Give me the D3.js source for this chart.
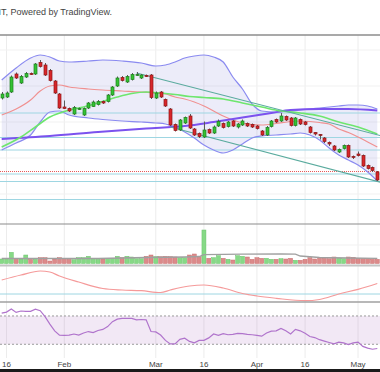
<!DOCTYPE html>
<html>
<head>
<meta charset="utf-8">
<script src="https://cdn.jsdelivr.net/npm/d3@7"></script>
<style>
  body { margin: 0; background: #fff; }
  svg { display: block; font-family: "Liberation Sans", Arial, sans-serif; }
</style>
</head>
<body>
<svg class="chart" width="380" height="372"></svg>
<script>
// daily bars, mid January to early May
const open = [126,127,132,150,141,147,150.5,150,161.5,159,
  153.5,143,130,117,115.5,110,115,109,116,117.5,
  119.5,122.5,122.5,129,138,146.5,142,144.5,149,146,
  148.5,149,126,132,124.5,115,99.5,94,101,108,
  95,90.5,87,94.5,91,98,100.5,97.5,103,97,
  99,100.5,99.5,98,93,89,97.5,104.5,103,107.5,
  106,98.5,104.5,102,97,91.5,89.5,86,81.5,78,
  72,75.5,78.5,67.5,70,68.5,58.5,56.5,52];
const high = [132,132.5,148.5,151.5,149,152,151.5,161,164,161,
  155,144,131,123.5,116.5,118,116.5,116.5,122,123.5,
  124,123.5,130,138,147.5,148,149,151,152,150,
  149.5,150,132.5,133,125.5,116,100.5,105,107.5,110,
  96,91.5,102.5,95.5,98.5,104.5,101.5,103,104,101,
  104.5,101.5,100.5,99,94,98,104,105.5,111,108.5,
  107,107,105.5,103,98,92,90,87,82.5,79,
  75.5,79.5,79.5,68.5,72.5,69.5,59.5,57.5,53];
const low = [124.5,126,131,145,140,146,149,149,156.5,148,
  142.5,130,115,115,112,109,114,108,115,117,
  118.5,120,121.5,128,137,142.5,141,143.5,148,145,
  147,125,125,126,117,98,92.5,93,100,95,
  88,86,86,90,90,97,95.5,96.5,97,95.5,
  98,97,96,94.5,88,88,96.5,101,102,103,
  97.5,97.5,99,98.5,90.5,88.5,84.5,81,78,73,
  71,74.5,66,65,67.5,57,54.5,52,43];
const close = [130,131,147,146,147.5,150.5,149.5,160,157.5,149,
  143.5,131,116,115.5,113,116.5,115.5,115.5,121,122,
  122.5,121,129,137,146,143.5,147.5,149.5,149.5,149,
  148,126.5,131,127,118,99,93.5,104,106.5,96,
  89,87.5,94,91,97,102.5,96.5,102,98,100,
  103,98,97,95.5,89,96.5,103,102,108,104,
  98.5,106,100,99.5,91.5,90,88.5,82.5,80,74,
  74.5,78.5,67,66.5,68.5,58,55.5,53.5,44];
const volume = [4.5,5.2,11.2,5.2,4.5,8.5,4.2,4.2,5.8,5.8,
  2.5,4.5,5.8,5.2,4.2,3.8,5.8,5.8,7.2,4.8,
  4.2,4.5,4.8,5.2,7.2,5.8,7.2,6.5,4.8,4.8,
  7.2,8.5,6.8,6.8,7.2,6.8,6.5,5.8,5.8,8.5,
  9.5,6.8,33.5,5.2,5.8,7.8,5.2,4.2,3.5,7.8,
  7.2,6.5,4.2,5.8,5.2,5.2,4.2,4.2,4.8,4.5,
  5.2,3.2,3.2,4.2,5.8,4.5,5.8,5.2,4.8,6.5,
  5.2,4.8,6.5,6.2,5.2,4.8,4.8,4.2,4.2];
const rsi = [74,75.5,80,75,77,76.5,76.5,79.5,77.5,69,
  58.5,49,43,42.5,43,44.5,43,46,48,46.5,
  49.5,51,55,62,65.5,66.5,66.5,66.5,64.5,65,
  64.5,48,47.5,43,35.5,30.5,30.5,37,38.5,34,
  32,35.5,35.5,39,44.5,42.5,45,43.5,44,45.5,
  45,44,43.5,42.5,41.5,46,48.5,49,52.5,49,
  44.5,51,49,45.5,41,39.5,36.5,34.5,32.5,30.5,
  33,32,29.5,32,33,27,24.5,23,24];

// bollinger bands, read at these bars
const bbIdx = [0,3,6,8,10,12,14,18,21,25,29,32,34,36,38,40,42,44,46,48,50,52,54,57,60,62,64,66,68,70,72,74,76,78];
const bbUpper = [144,156,166,169,167,163,162,163,164,163,161,158,159,162,166,168,169,167,162,147,135,120,113,112,113,114,115,116,117,118,119,119,118,115];
const bbLower = [74,81,89,102,112,113,109,106,104.5,103,102,101,100,97,92,86,79,74,71,74,80,86,88,89,90,91,89,84,76,69,64,59,52,43];
const bbBasis = [109,115,124,133,138,139,137,135,134,133,132,131,130,127,125,122,118,113,108,104,101,99.5,99,100.5,102.5,103,102.5,101.5,100,95,91.5,87,82,77];

const maGreenIdx = [0,4,7,10,14,17,20,24,27,30,33,36,39,42,46,50,54,58,62,66,70,74,78];
const maGreen = [77,87,97,107,114,117,121,127,130.5,132,131,129.5,127.5,126.5,125,121,117,113,111,108,102,97,90];
const maLongIdx = [0,10,20,30,38,44,50,56,60,66,72,78];
const maLong = [85,88,92,95.5,98,102,106.5,111,114,115,115,113.5];

const volMaIdx = [0,10,20,30,38,41,42,50,58,61,62,66,72,78];
const volMa = [5,5,5,6,6.5,7,8.8,9.3,9.5,9.3,7.5,6,5.5,5.2];

const oscIdx = [0,4,8,10,12,16,21,25,29,33,35,39,42,46,50,53,57,63,66,70,74,78];
const osc = [14,19,23,22,18,12,5.5,4,3.3,1.5,4,8,9,6,0.5,-2,-4.3,-6.7,-5.5,0,4.7,10.5];

// drawn levels and channel
const levels = [111,86.5,74,50,42.5,24.5];
const lastLevel = 52.5;
const trendLines = [[28,151,80,86.7],[35,97,80,40]];

const tickIdx = [1,13,32,42,53,63,74];
const tickLabels = ['16','Feb','Mar','16','Apr','16','May'];
const gridPrices = [30,66,102,138,174];

const width = 380;
const svg = d3.select('svg.chart');

const x = d3.scaleLinear().domain([0, open.length - 1]).range([1.7, 377.3]);
const y = d3.scaleLinear().domain([0, 189]).range([224, 35]);
const yVol = d3.scaleLinear().domain([0, 40]).range([263.5, 223.5]);
const yOsc = d3.scaleLinear().domain([-8, 28]).range([302, 266]);
const yRsi = d3.scaleLinear().domain([0, 100]).range([365.5, 294.75]);

// clip each pane
const defs = svg.append('defs');
function clip(id, y0, y1) {
  defs.append('clipPath').attr('id', id)
    .append('rect').attr('x', 0).attr('y', y0).attr('width', width).attr('height', y1 - y0);
  return svg.append('g').attr('clip-path', 'url(#' + id + ')');
}

// grid
svg.selectAll('line.vgrid')
  .data(tickIdx)
  .enter()
  .append('line')
  .attr('x1', d => x(d)).attr('x2', d => x(d))
  .attr('y1', 35).attr('y2', 358)
  .style('stroke', '#ececec');

svg.selectAll('line.hgrid')
  .data(gridPrices)
  .enter()
  .append('line')
  .attr('x1', 0).attr('x2', width)
  .attr('y1', d => y(d)).attr('y2', d => y(d))
  .style('stroke', '#f1f1f1');

svg.append('line').attr('x1', 0).attr('x2', width).attr('y1', 245).attr('y2', 245).style('stroke', '#f1f1f1');

// main pane
const gMain = clip('clipMain', 35, 224);

const bbArea = d3.area()
  .x(d => x(d.i))
  .y0(d => y(d.lo))
  .y1(d => y(d.up))
  .curve(d3.curveMonotoneX);

const bbData = bbIdx.map((i, k) => ({i: i, up: bbUpper[k], lo: bbLower[k], mid: bbBasis[k]}));

gMain.append('path')
  .attr('d', bbArea(bbData))
  .style('fill', 'rgba(120,120,215,0.14)');

gMain.selectAll('line.level')
  .data(levels)
  .enter()
  .append('line')
  .attr('x1', 0).attr('x2', width)
  .attr('y1', d => y(d)).attr('y2', d => y(d))
  .style('stroke', '#9ed6e2')
  .style('stroke-width', 1);

gMain.append('line')
  .attr('x1', 0).attr('x2', width)
  .attr('y1', y(lastLevel)).attr('y2', y(lastLevel))
  .style('stroke', '#e65a5a')
  .style('stroke-dasharray', '1,1');

function curve(idx, vals, yScale) {
  return d3.line()
    .x((d, k) => x(idx[k]))
    .y(d => yScale(d))
    .curve(d3.curveMonotoneX)(vals);
}

gMain.append('path').attr('d', curve(bbIdx, bbUpper, y))
  .style('fill', 'none').style('stroke', '#8a8af0').style('stroke-width', 1.2);
gMain.append('path').attr('d', curve(bbIdx, bbLower, y))
  .style('fill', 'none').style('stroke', '#8a8af0').style('stroke-width', 1.2);
gMain.append('path').attr('d', curve(bbIdx, bbBasis, y))
  .style('fill', 'none').style('stroke', '#f09090').style('stroke-width', 1.2);
gMain.append('path').attr('d', curve(maLongIdx, maLong, y))
  .style('fill', 'none').style('stroke', '#7b52ee').style('stroke-width', 2);
gMain.append('path').attr('d', curve(maGreenIdx, maGreen, y))
  .style('fill', 'none').style('stroke', '#6ee66e').style('stroke-width', 1.6);

gMain.selectAll('line.trend')
  .data(trendLines)
  .enter()
  .append('line')
  .attr('x1', d => x(d[0])).attr('y1', d => y(d[1]))
  .attr('x2', d => x(d[2])).attr('y2', d => y(d[3]))
  .style('stroke', '#5aab9e')
  .style('stroke-width', 1.1);

// candles
const bars = d3.range(open.length);
const up = i => close[i] >= open[i];

const candle = gMain.selectAll('g.candle')
  .data(bars)
  .enter()
  .append('g')
  .classed('candle', true);

candle.append('line')
  .attr('x1', i => Math.round(x(i)) + 0.5)
  .attr('x2', i => Math.round(x(i)) + 0.5)
  .attr('y1', i => y(high[i]))
  .attr('y2', i => y(low[i]))
  .style('stroke', '#5a5a5a');

candle.append('rect')
  .attr('x', i => Math.round(x(i)) - 1)
  .attr('y', i => y(Math.max(open[i], close[i])))
  .attr('width', 3)
  .attr('height', i => Math.max(1, Math.abs(y(open[i]) - y(close[i]))))
  .style('fill', i => up(i) ? '#33c233' : '#d8262a')
  .style('stroke', i => up(i) ? '#1f7f1f' : '#8e1717')
  .style('stroke-width', 0.7);

// volume pane
const gVol = clip('clipVol', 224, 265);

gVol.selectAll('rect.vol')
  .data(bars)
  .enter()
  .append('rect')
  .attr('x', i => x(i) - 2)
  .attr('y', i => yVol(volume[i]))
  .attr('width', 4)
  .attr('height', i => yVol(0) - yVol(volume[i]))
  .style('fill', i => up(i) ? '#86d986' : '#dc8a8a')
  .style('stroke', i => up(i) ? '#6cc46c' : '#c97070')
  .style('stroke-width', 0.5);

gVol.append('path')
  .attr('d', d3.line().x((d, k) => x(volMaIdx[k])).y(d => yVol(d))(volMa))
  .style('fill', 'none')
  .style('stroke', '#a0a0a0')
  .style('stroke-width', 1.3);

// oscillator pane
const gOsc = clip('clipOsc', 266, 302);
gOsc.append('line')
  .attr('x1', 0).attr('x2', width)
  .attr('y1', yOsc(0)).attr('y2', yOsc(0))
  .style('stroke', '#9ed6e2');
gOsc.append('path').attr('d', curve(oscIdx, osc, yOsc))
  .style('fill', 'none').style('stroke', '#f59a9a').style('stroke-width', 1.2);

// rsi pane
const gRsi = clip('clipRsi', 302, 358);
gRsi.append('rect')
  .attr('x', 0).attr('width', width)
  .attr('y', yRsi(70)).attr('height', yRsi(30) - yRsi(70))
  .style('fill', 'rgba(175,110,195,0.16)');
gRsi.selectAll('line.band')
  .data([70, 30])
  .enter()
  .append('line')
  .attr('x1', 0).attr('x2', width)
  .attr('y1', d => yRsi(d)).attr('y2', d => yRsi(d))
  .style('stroke', '#9a9a9a')
  .style('stroke-dasharray', '2,2');
gRsi.append('path')
  .attr('d', d3.line().x((d, i) => x(i)).y(d => yRsi(d))(rsi))
  .style('fill', 'none')
  .style('stroke', '#b074cc')
  .style('stroke-width', 1.2);

// pane borders
svg.append('line').attr('x1', 0).attr('x2', width).attr('y1', 35).attr('y2', 35)
  .style('stroke', '#8c8c8c').style('stroke-width', 1.5);
svg.append('line').attr('x1', 0).attr('x2', width).attr('y1', 224).attr('y2', 224)
  .style('stroke', '#8c8c8c').style('stroke-width', 1.2);
svg.append('line').attr('x1', 0).attr('x2', width).attr('y1', 265.5).attr('y2', 265.5)
  .style('stroke', '#c4c4c4').style('stroke-width', 2);
svg.append('line').attr('x1', 0).attr('x2', width).attr('y1', 302).attr('y2', 302)
  .style('stroke', '#a0a0a0').style('stroke-width', 1.5);

// time axis
svg.selectAll('text.tick')
  .data(tickIdx)
  .enter()
  .append('text')
  .attr('x', d => x(d))
  .attr('y', 367)
  .attr('text-anchor', 'middle')
  .style('font-size', '8px')
  .style('fill', '#444')
  .text((d, k) => tickLabels[k]);

svg.append('rect').attr('x', 0).attr('y', 369).attr('width', width).attr('height', 3).style('fill', '#1a1a1a');

svg.append('text')
  .attr('x', -1.5)
  .attr('y', 15)
  .style('font-size', '9px')
  .style('fill', '#444')
  .text('IT, Powered by TradingView.');
</script>
</body>
</html>
